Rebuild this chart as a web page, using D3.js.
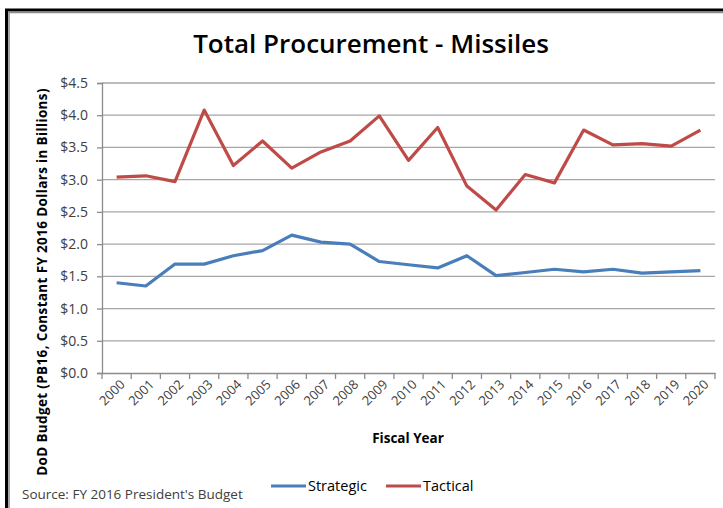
<!DOCTYPE html>
<html><head><meta charset="utf-8">
<script src="https://cdn.jsdelivr.net/npm/d3@7"></script>
<style>body{margin:0;background:#fff}svg{display:block}</style>
</head><body>
<svg id="c" width="723" height="508"></svg>
<script>
const years = ["2000","2001","2002","2003","2004","2005","2006","2007","2008","2009","2010","2011","2012","2013","2014","2015","2016","2017","2018","2019","2020"];
const strategic = [1.40,1.35,1.69,1.69,1.82,1.90,2.14,2.03,2.00,1.73,1.68,1.63,1.82,1.51,1.56,1.61,1.57,1.61,1.55,1.57,1.59];
const tactical = [3.04,3.06,2.97,4.08,3.22,3.60,3.18,3.43,3.60,3.99,3.30,3.81,2.90,2.53,3.08,2.95,3.77,3.54,3.56,3.52,3.77];
const yTicks = [0,0.5,1.0,1.5,2.0,2.5,3.0,3.5,4.0,4.5];
const seriesNames = ["Strategic","Tactical"];
const seriesColors = ["#4a7ebb","#be4b48"];
const titleText = "Total Procurement - Missiles";
const yTitle = "DoD Budget (PB16, Constant FY 2016 Dollars in Billions)";
const xTitle = "Fiscal Year";
const sourceText = "Source:  FY 2016 President's Budget";

const svg = d3.select("#c");
const F = "'Open Sans','Liberation Sans',Arial,sans-serif";

// frame
svg.append("rect").attr("x",6.5).attr("y",10).attr("width",730).attr("height",520)
  .attr("fill","none").attr("stroke","#000").attr("stroke-width",3);
svg.append("rect").attr("x",9).attr("y",12.5).attr("width",730).attr("height",520)
  .attr("fill","none").attr("stroke","#8a8a8a").attr("stroke-width",1.5);

const x = d3.scaleBand().domain(years).range([102,715]).padding(0);
const y = d3.scaleLinear().domain([0,4.5]).range([373,83]);
const cx = d => x(d) + x.bandwidth()/2;

// gridlines
svg.append("g").selectAll("line").data(yTicks.slice(1)).join("line")
  .attr("x1",102).attr("x2",715).attr("y1",d=>y(d)).attr("y2",d=>y(d))
  .attr("stroke","#a6a6a6").attr("stroke-width",1.3);

// y axis
const yAxis = d3.axisLeft(y).tickValues(yTicks).tickSize(5).tickPadding(9)
  .tickFormat(d => "$" + d3.format(".1f")(d));
const gy = svg.append("g").attr("transform","translate(102,0)").call(yAxis);
gy.select(".domain").attr("stroke","#8c8c8c").attr("stroke-width",1.3);
gy.selectAll(".tick line").attr("stroke","#8c8c8c").attr("stroke-width",1.3);
gy.selectAll(".tick text").attr("font-family",F).attr("font-size",14).attr("fill","#404040");

// x axis
const xAxis = d3.axisBottom(x).tickSize(0).tickFormat(d=>d);
const gx = svg.append("g").attr("transform","translate(0,373)").call(xAxis);
gx.select(".domain").attr("stroke","#8c8c8c").attr("stroke-width",1.3);
gx.selectAll(".tick text")
  .attr("font-family",F).attr("font-size",13).attr("fill","#404040")
  .attr("text-anchor","end")
  .attr("transform","translate(6,9) rotate(-45)")
  .attr("dy","0.35em").attr("y",0);
// tick marks at band boundaries
const bounds = years.map(d=>x(d)).concat([x(years[years.length-1])+x.bandwidth()]);
svg.append("g").selectAll("line").data(bounds).join("line")
  .attr("x1",d=>d).attr("x2",d=>d).attr("y1",373).attr("y2",379)
  .attr("stroke","#8c8c8c").attr("stroke-width",1.3);

// lines
const line = d3.line().x((d,i)=>cx(years[i])).y(d=>y(d));
[strategic,tactical].forEach((s,k)=>{
  svg.append("path").datum(s).attr("d",line).attr("fill","none")
    .attr("stroke",seriesColors[k]).attr("stroke-width",3.2).attr("stroke-linejoin","round");
});

// title
svg.append("text").attr("x",371).attr("y",53).attr("text-anchor","middle")
  .attr("font-family",F).attr("font-size",26).attr("font-weight","600").attr("fill","#000")
  .text(titleText);

// y title
svg.append("text").attr("transform","translate(47,282) rotate(-90)").attr("text-anchor","middle")
  .attr("font-family",F).attr("font-size",13.5).attr("letter-spacing","0.35px").attr("font-weight","bold").attr("fill","#000")
  .text(yTitle);

// x title
svg.append("text").attr("x",408).attr("y",443).attr("text-anchor","middle")
  .attr("font-family",F).attr("font-size",13.5).attr("font-weight","bold").attr("fill","#000")
  .text(xTitle);

// legend
const legX = [271,386];
seriesNames.forEach((n,k)=>{
  svg.append("line").attr("x1",legX[k]).attr("x2",legX[k]+35).attr("y1",486).attr("y2",486)
    .attr("stroke",seriesColors[k]).attr("stroke-width",3.2);
  svg.append("text").attr("x",legX[k]+37).attr("y",491).attr("font-family",F).attr("font-size",14.5)
    .attr("fill","#000").text(n);
});

// source
svg.append("text").attr("x",22).attr("y",499).attr("font-family",F).attr("font-size",13.5)
  .attr("fill","#404040").text(sourceText);
</script>
</body></html>
